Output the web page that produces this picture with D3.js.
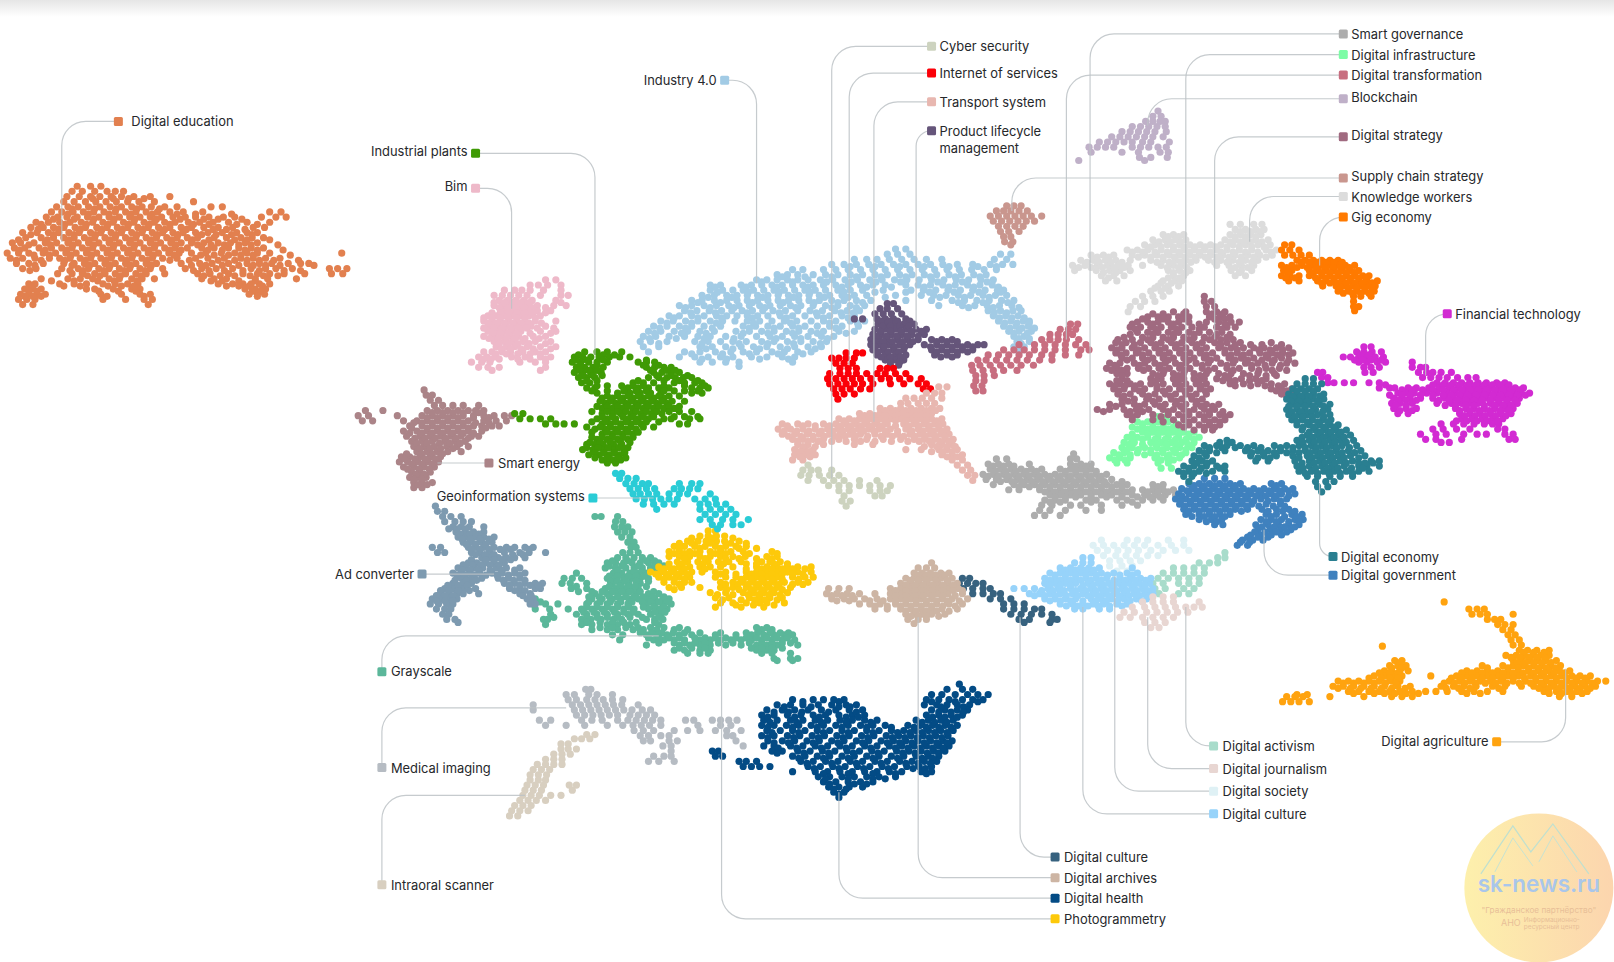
<!DOCTYPE html>
<html><head><meta charset="utf-8">
<script src="https://d3js.org/d3.v7.min.js"></script>
<style>html,body{margin:0;padding:0;background:#fff}svg{display:block}text{font-family:Inter,"Noto Sans",sans-serif}</style>
</head><body><svg id="c" width="1614" height="962"></svg>
<script>
// Each series: rows of [y, x, x, ...]
const digitalEducation=[[181,75,88,98],[186,70,80,92,104,112,120],[191,65,77,88,97,108,118,130,146,165],[196,62,72,83,93,103,113,124,135,150,188],[201,55,66,76,86,97,107,118,128,138,147,160,172,205,216],[206,50,60,71,81,91,101,112,122,132,142,153,165,178,197,262,273],[211,45,56,65,75,85,96,106,116,126,136,146,157,168,180,190,203,217,228,254,268,278],[216,35,47,58,68,79,90,100,110,120,130,140,150,160,170,183,194,207,222,240,262],[221,30,42,52,62,73,83,94,104,114,124,134,144,154,165,176,186,198,212,226,246,257],[226,22,36,47,57,67,77,88,98,108,118,128,138,148,158,168,178,190,202,216,230,240,250],[231,25,40,52,62,72,82,92,102,112,122,132,142,152,162,172,182,192,208,220,234,245,256],[236,12,20,33,44,55,66,76,86,96,106,116,126,136,146,156,166,176,186,198,212,224,238,250],[241,14,24,38,50,60,70,80,90,100,110,120,130,140,150,160,170,182,196,208,222,232,244,256],[246,7,18,28,42,54,64,74,84,94,104,114,124,134,144,154,164,174,186,200,215,228,240,250,262,332],[251,10,22,34,48,58,68,78,88,98,108,118,128,138,148,158,172,190,202,218,234,246,258,272],[256,16,28,42,62,72,82,92,102,112,122,132,142,152,176,194,206,222,240,252,264,280,292,300],[261,22,35,60,76,86,96,106,116,126,136,146,158,180,196,210,226,244,258,268,284,320,328,337],[266,56,70,80,92,102,112,122,132,142,160,192,204,222,236,250,262,276,296,322,333],[271,40,66,78,90,106,116,128,138,150,196,208,220,248,260,288],[276,34,28,58,72,84,100,112,124,134,212,226,236,244,252,262],[281,24,32,40,84,92,110,128,136,238,248,258],[286,20,28,36,44,98,118,136,146,242,250,257],[291,18,26,34,100,122,140,148],[296,22,32,144]];
const digitalEducation2=[[193,90,110,125,140],[203,70,92,113,133,155],[208,66,86,106,127,148,172,190,225],[213,52,72,91,111,131,152,175,198,212,235],[218,40,63,84,105,125,145,165,188,203,230,250],[223,37,57,78,99,119,139,160,181,207,220,238],[228,30,52,72,93,113,133,153,173,196,210,225,245],[233,18,46,67,87,107,127,147,167,187,203,228,240,262],[238,28,49,71,91,111,131,151,171,192,205,218,232,244,270],[243,19,44,65,85,105,125,145,165,176,202,216,238,250,275],[248,33,48,69,89,109,129,149,169,195,208,222,234,246,282],[253,16,40,63,83,103,123,143,165,184,212,228,240,252,266,290],[258,34,70,87,107,127,147,186,200,216,232,246,258,272,305],[263,29,68,81,101,121,141,188,203,218,236,252,276,292],[268,85,97,117,137,198,214,228,243,256,270],[273,50,72,95,111,133,205,216,232,248],[278,30,62,78,105,118,130,220,232,242,255],[283,28,36,96,115,132,245,253],[288,24,32,40,104,140,250]];
const industry40=[[242,870,880],[247,862,872,884,972,982],[252,830,842,852,864,876,888,900,915,966,978],[257,808,820,832,844,856,868,880,892,904,916,930,945,962,974,984],[262,770,780,800,812,824,836,848,860,872,884,896,908,920,932,944,956,968],[267,755,765,775,790,802,814,826,838,850,862,874,886,898,910,922,934,946,958],[272,735,745,755,765,775,785,797,809,821,833,845,857,869,881,893,905,917,929,941,953,965],[277,690,700,720,730,740,750,760,770,780,790,800,812,824,836,848,860,880,892,904,916,928,940,952,964],[282,690,702,712,722,732,742,752,762,772,782,792,802,814,826,838,858,885,897,909,921,933,945,957,969,975],[287,682,694,706,716,726,736,746,756,766,776,786,796,806,818,830,842,870,895,907,919,931,943,955,967,978],[292,672,682,694,706,716,726,736,746,756,766,776,786,796,808,820,832,846,880,905,925,937,949,961,973,985],[297,660,672,684,696,708,718,728,738,748,758,768,778,790,802,814,826,840,912,935,947,959,971,983],[302,665,677,689,701,711,721,731,741,751,763,775,787,799,811,823,835,960,972,984,992],[307,650,660,672,684,696,706,716,726,736,746,758,770,782,794,806,818,830,965,977,989],[312,642,654,666,678,690,702,714,726,738,750,762,774,788,800,812,826,840,970,982,994,1000],[317,635,648,660,672,684,700,722,734,746,758,770,782,794,806,818,834,975,987,999],[322,630,642,655,668,680,694,715,728,740,752,764,776,788,800,815,830,980,990,1002],[327,625,637,650,665,678,690,705,720,735,748,760,772,785,798,810,985,995],[332,622,632,648,675,688,700,712,725,740,752,765,778,790,803,988,1000],[337,625,640,680,692,705,720,732,745,758,772,785,798,985,995],[342,630,665,680,695,710,722,735,750,762,775,788,990],[347,660,675,688,700,712,730,745,760,772],[352,680,692,705,718,770],[356,718]];
const industry402=[[259,826,850,874,898,922,950,968],[269,760,782,808,832,856,880,904,928,952],[274,740,770,803,827,851,875,911,935,959],[279,695,725,755,785,818,842,866,898,922,946,970],[284,697,727,757,787,820,850,880,903,927,951,972],[289,688,711,741,771,801,824,860,913,937,961],[294,678,700,731,761,791,814,838,931,955,979],[299,666,690,713,743,773,808,832,941,965,990],[304,671,695,726,757,793,817,829,966,978],[309,655,678,701,731,764,800,824,971,983,995],[314,648,672,696,732,768,806,833,976,988,1000],[319,641,666,692,728,752,776,812,981,993,1005],[324,636,662,686,722,746,770,794,822,985,998],[329,631,657,684,713,754,778,804,990,1000],[334,640,682,718,746,771,797,992],[339,686,712,738,765,792,990],[344,672,702,728,756,780],[349,682,706,738,766]];
const productLifecycle=[[295,862,868],[300,855,862,872],[305,850,858,866,876],[310,830,838,852,860,868,880],[315,853,861,869,878,888],[320,850,860,870,880,890,900],[325,848,856,866,876,886,898],[330,846,854,862,872,882,892,905,915,925],[335,846,854,864,874,884,898,910,920,930,940,950,956],[340,848,858,868,878,905,915,925,935,945],[345,852,860,870,880,908,920,930],[350,860,870,878],[355,865,873]];
const productLifecycle2=[[312,856,864,872,884],[317,857,865,874,883],[322,855,865,875,885,895],[327,851,861,871,881,892],[332,850,858,867,877,887,910,920,930],[337,850,859,869,879,904,915,925,935,945],[342,853,863,873,910,920,930,940],[347,856,865,875,914,925],[352,865,874]];
const internetOfServices=[[343,822,832,838],[348,808,815,822,830],[353,812,820,828],[358,816,824,832,855,862,868],[363,806,816,824,832,842,852,860,870,880],[368,804,812,820,828,836,846,856,864,874,884,895],[373,806,814,822,830,838,848,865,878,892,900],[378,810,818,826,836,845,897,904],[383,812,820,830],[388,814]];
const transportSystem=[[376,912,920],[382,900,908,915],[387,880,888,896,905,915],[392,875,882,892,900,908],[397,855,865,875,885,895,905,913],[402,835,845,855,865,875,885,895,905],[407,815,825,835,845,855,865,875,885,895,905,915],[412,760,775,785,800,812,822,832,842,852,862,878,888,898,908,916],[417,756,768,780,792,804,814,824,834,844,854,865,880,892,902,912,920],[422,760,772,784,796,806,816,826,836,850,862,872,884,894,904,914,922],[427,770,780,790,800,815,830,842,858,875,888,898,908,918,926],[432,775,785,800,830,848,905,915,925],[437,772,782,790,880,895,912,920,930],[442,772,782,792,915,925,935],[447,770,780,925,935],[452,930,940],[457,935,943],[462,940,947],[467,945]];
const transportSystem2=[[399,860,870,880,890,900,909],[404,840,850,860,870,880,890,900],[409,820,830,840,850,860,870,880,890,900,910],[414,765,780,792,806,817,827,837,847,857,870,883,893,903,912],[419,762,774,786,798,809,819,829,839,849,860,872,886,897,907,916],[424,766,778,790,801,811,821,831,843,856,867,878,889,899,909,918],[429,775,785,795,808,822,836,850,866,882,893,903,913,922],[434,780,792,898,910,920,928],[439,777,786,905,916,925],[444,777,787,920,930]];
const cyberSecurity=[[452,785],[457,780,788,795,808],[462,778,786,796,806,815],[467,785,800,810,820,835,852],[472,805,815,825,835,845,855,865],[477,815,825,845,855,862],[482,820,850,857],[487,818,826],[492,822]];
const digitalTransformation=[[315,1040,1047],[320,1030,1038,1045],[325,1020,1028,1036,1042],[330,1012,1020,1028,1036,1048],[335,990,1005,1015,1025,1035,1045,1055],[340,975,985,995,1005,1015,1025,1035,1050,1058],[345,960,970,980,990,1000,1012,1022,1035,1048],[350,950,958,968,978,988,998,1010,1022],[355,944,952,962,972,982,992,1004],[360,945,955,965,975,988],[365,948,956,966],[370,948,956],[375,946,954],[380,948,955]];
const digitalStrategy=[[288,1170],[293,1170,1177],[298,1172,1180],[303,1140,1152,1172,1182,1190],[308,1115,1125,1135,1145,1155,1175,1185,1195],[313,1105,1115,1125,1135,1145,1155,1172,1184,1196,1204],[318,1098,1108,1118,1128,1138,1148,1158,1170,1182,1192,1200],[323,1105,1115,1125,1135,1145,1155,1165,1175,1187],[328,1092,1110,1120,1130,1140,1150,1160,1170,1180,1192],[333,1084,1094,1108,1118,1128,1138,1148,1158,1168,1180,1192,1205,1235],[338,1080,1090,1100,1112,1122,1132,1142,1152,1162,1172,1184,1196,1208,1218,1228,1240,1252],[343,1084,1094,1104,1116,1126,1136,1146,1156,1166,1178,1190,1202,1214,1224,1236,1246,1256],[348,1090,1100,1110,1120,1130,1140,1150,1160,1170,1182,1194,1206,1218,1232,1245],[353,1078,1088,1102,1112,1122,1132,1142,1152,1162,1174,1186,1198,1210,1222,1236,1250,1258],[358,1075,1085,1095,1106,1116,1126,1136,1146,1156,1168,1180,1192,1204,1216,1230,1243],[363,1085,1095,1120,1130,1140,1150,1160,1172,1184,1196,1208,1222,1238],[368,1090,1118,1128,1140,1150,1160,1170,1182,1194,1206,1220,1230],[373,1078,1088,1098,1108,1118,1130,1142,1152,1162,1172,1195,1208,1222,1235,1248],[378,1082,1092,1102,1112,1124,1136,1146,1156,1166,1176,1235,1245,1255],[383,1086,1098,1110,1122,1132,1142,1152,1162,1172,1245,1255],[388,1090,1102,1114,1126,1138,1148,1158,1168],[393,1078,1090,1102,1112,1122,1132,1142,1152,1162,1172,1184],[398,1066,1078,1092,1104,1116,1130,1140,1150,1160,1170,1180],[403,1095,1105,1120,1135,1145,1155,1165,1175,1185,1195],[408,1100,1120,1140,1150,1160,1170,1180,1190],[413,1145,1155,1165,1175,1185],[418,1160,1170,1178]];
const digitalStrategy2=[[305,1120,1130,1150,1178,1188],[310,1110,1130,1150,1180,1190],[315,1100,1120,1140,1165,1190],[320,1103,1123,1143,1165,1187],[325,1098,1120,1140,1160,1182,1195],[330,1086,1100,1115,1135,1155,1175,1186,1198],[335,1090,1102,1123,1143,1163,1186,1200,1215,1226,1245],[340,1085,1106,1127,1147,1167,1190,1202,1223,1234,1246],[345,1089,1110,1131,1151,1172,1196,1208,1230,1241,1252],[350,1095,1115,1135,1155,1176,1200,1212,1226,1238,1252],[355,1083,1107,1127,1147,1168,1192,1216,1229,1244],[360,1080,1090,1111,1131,1151,1174,1198,1223,1236,1250],[365,1090,1125,1145,1166,1190,1214,1230,1240],[370,1085,1095,1123,1145,1165,1188,1200,1214,1226],[375,1083,1093,1103,1124,1147,1167,1200,1215,1229,1242],[380,1087,1107,1130,1151,1171,1240,1250],[385,1092,1116,1137,1157,1250],[390,1096,1120,1143,1163],[395,1084,1107,1127,1147,1167,1178],[400,1072,1098,1110,1135,1155,1175,1188],[405,1100,1128,1150,1170,1190],[410,1130,1155,1175,1185],[415,1150,1170,1180]];
const digitalInfrastructure=[[405,1125,1133],[410,1105,1115,1125,1135],[415,1100,1110,1120,1130,1140,1150],[420,1110,1120,1130,1140,1150,1160],[425,1095,1105,1115,1125,1135,1145,1155,1165],[430,1092,1102,1118,1128,1138,1148,1160],[435,1090,1100,1112,1124,1134,1146,1158],[440,1082,1092,1105,1118,1130,1142,1152],[445,1078,1088,1098,1122,1134,1146],[450,1085,1095,1125,1135],[455,1128,1138]];
const digitalInfrastructure2=[[412,1110,1120,1130,1143],[417,1105,1115,1125,1135,1145],[422,1100,1115,1125,1135,1145,1155],[427,1100,1110,1122,1132,1142,1152,1160],[432,1097,1110,1123,1133,1143,1154],[437,1095,1106,1118,1129,1140,1152],[442,1087,1098,1112,1124,1136,1148],[447,1083,1093,1128,1140]];
const smartGovernance=[[441,1043],[446,968,978,1040,1046],[451,960,970,980,1000,1040,1050,1060],[456,962,972,982,992,1002,1012,1030,1040,1050,1060],[461,955,965,975,985,995,1005,1015,1025,1035,1045,1055,1065,1075],[466,958,968,978,988,998,1008,1018,1028,1038,1048,1058,1068,1080],[471,965,985,995,1005,1015,1025,1035,1045,1055,1065,1075,1085,1095,1120,1130],[476,980,990,1010,1020,1030,1040,1050,1060,1070,1080,1090,1100,1110,1120,1130,1140],[481,1020,1030,1040,1050,1060,1070,1080,1090,1100,1112,1122,1132,1142],[486,1015,1025,1035,1055,1065,1085,1095,1110,1120,1130],[491,1012,1022,1040,1050,1070,1090,1105],[496,1010,1020,1035,1055,1070],[501,1005,1015,1030]];
const smartGovernance2=[[453,965,975,985,1045,1055],[458,967,977,987,997,1007,1035,1045,1055,1065],[463,960,970,980,990,1000,1010,1020,1030,1040,1050,1060,1070],[468,972,983,993,1003,1013,1023,1033,1043,1053,1063,1073,1090],[473,990,1000,1010,1020,1030,1040,1050,1060,1070,1080,1090,1125],[478,1015,1025,1035,1045,1055,1065,1075,1085,1095,1115,1125,1135],[483,1025,1035,1045,1060,1075,1090,1105,1117,1127],[488,1020,1030,1060,1100]];
const blockchain=[[108,1125],[113,1120,1128],[118,1113,1120,1127,1132],[123,1100,1108,1116,1124,1132],[128,1090,1098,1106,1114,1122,1133],[133,1080,1088,1096,1104,1112,1120,1130],[138,1068,1076,1084,1092,1100,1110,1118,1136],[143,1058,1066,1074,1082,1100,1108,1116,1125,1133],[148,1060,1090,1106,1127,1135],[153,1107,1118,1134],[156,1048,1112]];
const supplyChain=[[200,978,985,992],[205,968,975,982,990,998],[210,962,970,978,986,994,1002,1012],[215,965,973,981,989,997,1005],[220,970,978,986,994],[225,972,980,990],[230,975,982],[235,976,984],[238,982]];
const knowledgeWorkers=[[218,1195,1205,1218,1226],[223,1200,1210,1220,1228],[228,1130,1140,1150,1195,1205,1215,1225],[233,1120,1132,1142,1152,1190,1200,1210,1220,1232],[238,1112,1122,1134,1146,1156,1166,1176,1186,1198,1210,1222,1234],[243,1095,1105,1115,1128,1140,1150,1160,1170,1182,1192,1204,1216,1230,1240],[248,1060,1072,1082,1100,1112,1124,1136,1146,1156,1166,1176,1188,1200,1212,1224,1236],[253,1050,1062,1074,1084,1098,1118,1130,1142,1152,1162,1174,1186,1198,1210,1222],[258,1042,1054,1066,1076,1086,1096,1110,1128,1140,1150,1182,1194,1206,1218],[263,1044,1065,1078,1088,1098,1135,1146,1156,1196,1206,1216],[268,1070,1082,1092,1140,1150,1200,1210],[273,1074,1085,1130,1142,1148],[278,1125,1135,1145],[283,1118,1128,1136],[288,1110,1120,1130],[293,1103,1112,1122],[298,1098,1108],[303,1096]];
const knowledgeWorkers2=[[225,1205,1215,1224],[230,1135,1145,1200,1210,1220],[235,1126,1137,1147,1195,1205,1215,1226],[240,1118,1128,1140,1151,1161,1171,1181,1192,1204,1216,1228],[245,1100,1110,1122,1134,1145,1155,1165,1176,1186,1198,1210,1222,1235],[250,1066,1077,1106,1118,1130,1141,1151,1161,1171,1182,1194,1206,1218,1230],[255,1056,1068,1079,1090,1124,1136,1147,1157,1180,1192,1204,1216],[260,1048,1060,1071,1082,1092,1134,1145,1153,1200,1212],[265,1072,1084,1140,1152,1204],[270,1077,1135,1146],[275,1128,1138],[280,1122,1132]];
const gigEconomy=[[238,1248,1255],[243,1245,1253,1262],[248,1248,1256,1264,1272],[253,1260,1268,1276,1284,1292,1300],[258,1245,1255,1265,1275,1283,1291,1299,1307,1316],[263,1247,1255,1272,1280,1288,1296,1304,1312,1320],[268,1245,1253,1262,1272,1284,1292,1300,1308,1316,1324,1330],[273,1252,1262,1280,1288,1296,1304,1312,1320,1328,1338],[278,1285,1298,1306,1314,1322,1330,1336],[283,1300,1310,1318,1326,1335],[288,1315,1322,1332],[293,1315],[298,1315,1320],[302,1316]];
const gigEconomy2=[[255,1264,1272,1280,1288,1296,1304],[260,1250,1260,1270,1279,1287,1295,1303,1311],[265,1251,1276,1284,1292,1300,1308,1316],[270,1249,1258,1278,1288,1296,1304,1312,1320,1327],[275,1284,1292,1300,1308,1316,1324,1333],[280,1302,1310,1318,1326,1333],[285,1305,1314,1322,1330]];
const financialTechnology=[[337,1325,1332],[342,1318,1325,1333,1342],[347,1305,1312,1320,1328,1336,1344],[352,1320,1328,1338,1346,1372],[357,1325,1332,1340,1372,1380,1385],[362,1280,1285,1326,1334,1378,1386,1392,1400,1410],[367,1284,1290,1382,1390,1398,1406,1416,1426,1434],[372,1290,1296,1306,1315,1330,1340,1396,1404,1412,1420,1428,1436,1444,1454,1462],[377,1340,1350,1355,1368,1376,1388,1398,1408,1416,1424,1432,1440,1448,1456,1464,1472,1480],[382,1358,1366,1374,1386,1396,1406,1414,1422,1430,1438,1446,1454,1462,1470,1478,1486],[387,1354,1362,1370,1380,1392,1404,1412,1420,1428,1436,1444,1452,1460,1468,1476],[392,1352,1360,1372,1396,1410,1420,1428,1436,1448,1456,1464,1474],[397,1354,1366,1376,1414,1424,1432,1442,1452,1462,1470],[402,1358,1368,1418,1428,1438,1448,1458,1468],[407,1420,1430,1440,1450,1460],[412,1400,1412,1422,1432,1442,1450,1456],[417,1392,1402,1415,1428,1455,1462],[422,1380,1395,1405,1422,1435,1444,1462,1470],[427,1385,1395,1420,1466,1472],[430,1400,1408]];
const financialTechnology2=[[345,1322,1330],[350,1316,1324,1332,1342],[374,1346,1392,1402,1410,1418,1426,1434,1442,1450,1458,1466],[379,1362,1372,1382,1392,1402,1412,1420,1428,1436,1444,1452,1460,1468,1476],[384,1350,1362,1370,1380,1392,1402,1410,1418,1426,1434,1442,1450,1458,1466,1474,1482],[389,1358,1366,1376,1398,1408,1416,1424,1432,1440,1448,1456,1464,1472],[394,1356,1366,1404,1414,1424,1432,1442,1452,1460,1468],[399,1360,1372,1418,1428,1437,1447,1457,1466],[404,1423,1433,1443,1453,1463],[409,1415,1425,1435,1445,1455]];
const digitalEconomy=[[368,1268,1276],[373,1260,1268,1276,1284],[378,1256,1264,1272,1280],[383,1252,1260,1268,1276,1286],[388,1250,1258,1266,1276,1286],[393,1256,1264,1272,1282,1292],[398,1250,1260,1268,1278,1290],[403,1252,1262,1270,1280,1292],[408,1255,1265,1275,1285,1293],[413,1260,1272,1282,1292,1300],[418,1265,1278,1288,1298,1308],[423,1270,1280,1290,1300,1312],[428,1192,1260,1272,1282,1292,1302,1315],[433,1170,1182,1192,1205,1218,1238,1250,1262,1274,1284,1294,1304,1318],[438,1165,1175,1190,1210,1222,1232,1244,1256,1268,1278,1288,1298,1310,1322],[443,1160,1172,1215,1228,1240,1256,1270,1280,1290,1300,1312,1326],[448,1158,1168,1178,1220,1232,1258,1272,1282,1292,1302,1314,1332,1340],[453,1150,1160,1172,1182,1190,1260,1272,1284,1294,1306,1320,1328,1340],[458,1145,1155,1165,1178,1190,1262,1274,1286,1296,1308,1320,1330],[463,1150,1158,1270,1280,1292,1302,1314],[468,1155,1278,1288,1296],[473,1280,1290],[478,1284]];
const digitalEconomy2=[[380,1260,1268,1276],[385,1256,1264,1272,1282],[390,1254,1262,1270,1280],[395,1252,1260,1268,1276,1286],[400,1255,1264,1274,1285],[405,1258,1266,1275,1286],[410,1260,1270,1280,1290],[415,1266,1276,1286,1296],[420,1272,1283,1293,1303],[425,1265,1276,1286,1296,1306],[430,1185,1197,1266,1277,1287,1297,1308],[435,1175,1187,1200,1212,1225,1244,1256,1268,1279,1289,1299,1311],[440,1170,1182,1216,1227,1238,1250,1262,1273,1283,1293,1304,1316],[445,1165,1222,1234,1262,1275,1285,1295,1306,1320],[450,1163,1173,1265,1277,1287,1297,1308,1320,1326,1334],[455,1155,1167,1185,1266,1278,1290,1300,1313,1324],[460,1150,1160,1172,1268,1280,1291,1302,1314]];
const digitalGovernment=[[465,1170,1180,1190],[470,1155,1165,1175,1185,1195,1205,1235,1245],[475,1148,1158,1168,1178,1188,1198,1208,1218,1228,1238,1248,1256],[480,1145,1155,1165,1175,1185,1195,1205,1215,1225,1235,1245,1258],[485,1142,1152,1162,1172,1182,1192,1202,1212,1225,1238,1250],[490,1146,1156,1166,1176,1186,1196,1206,1216,1230,1244],[495,1150,1160,1170,1180,1190,1200,1212,1226,1240,1252],[500,1152,1165,1175,1185,1195,1230,1240,1255,1265],[505,1165,1177,1187,1225,1235,1245,1258,1266],[510,1180,1188,1220,1232,1242,1252,1262],[515,1222,1234,1244,1254],[520,1215,1225,1235,1245],[525,1207,1217,1227],[530,1202,1212]];
const digitalGovernment2=[[472,1160,1170,1180,1190,1200,1240],[477,1153,1163,1173,1183,1193,1203,1213,1223,1233,1243,1252],[482,1148,1160,1170,1180,1190,1200,1210,1220,1230,1240,1252],[487,1147,1157,1167,1177,1187,1197,1207,1218,1232,1244],[492,1151,1161,1171,1181,1191,1201,1211,1223,1237,1248],[497,1155,1165,1175,1185,1195,1206,1232,1246,1258],[502,1158,1170,1180,1190,1235,1248,1260],[507,1172,1182,1230,1240,1252,1262],[512,1226,1238,1248,1258],[517,1219,1229,1240,1250],[522,1212,1222,1232],[527,1205,1214]];
const digitalSociety=[[525,1070,1095,1105,1115,1135,1150],[530,1062,1072,1082,1092,1102,1112,1125,1138,1150],[535,1066,1076,1086,1096,1106,1118,1130,1142,1155],[540,1072,1084,1094,1104,1115,1125],[545,1078,1088,1098,1108],[550,1078,1090,1100],[555,1085,1095]];
const digitalCultureLight=[[542,1052,1060],[547,1044,1052,1060],[552,1030,1040,1050,1058,1068,1100],[557,1020,1030,1040,1050,1060,1070,1082,1095,1105],[562,1015,1025,1035,1045,1055,1065,1075,1088,1098,1108,1118],[567,1015,1025,1035,1045,1057,1067,1077,1087,1097,1107,1117],[572,985,995,1005,1018,1028,1040,1050,1060,1070,1080,1090,1100,1110,1120],[577,1000,1010,1020,1030,1042,1052,1062,1072,1082,1092,1102,1112,1120],[582,1015,1025,1035,1045,1060,1070,1080,1092,1104,1114],[587,1030,1042,1052,1062,1072,1085,1095],[592,1044,1052,1068,1078]];
const digitalCultureLight2=[[554,1035,1045,1055,1063],[559,1025,1035,1045,1055,1065,1076,1088,1100],[564,1020,1030,1040,1050,1060,1070,1082,1093,1103,1113],[569,1020,1030,1040,1052,1062,1072,1082,1092,1102,1112],[574,1012,1023,1034,1045,1055,1065,1075,1085,1095,1105,1115],[579,1005,1015,1025,1036,1047,1057,1067,1077,1087,1097,1107,1117],[584,1020,1030,1040,1052,1065,1075,1086,1098,1109],[589,1036,1047,1057,1067,1078,1090]];
const digitalActivism=[[537,1190],[542,1183,1190],[547,1165,1175,1183],[552,1140,1150,1160,1170],[557,1130,1140,1150,1160,1170],[562,1125,1135,1145,1155,1165],[567,1120,1130,1145,1155,1165],[572,1122,1132,1150,1160],[577,1126,1145,1155]];
const digitalJournalism=[[580,1120,1130,1140],[585,1110,1120,1130,1140,1165],[590,1100,1112,1122,1132,1142,1152,1160,1168],[595,1092,1102,1114,1124,1134,1144,1154],[600,1088,1098,1110,1120,1130,1140],[605,1112,1122,1132],[610,1118,1126]];
const digitalCultureDark=[[562,935,942],[567,932,940,948,955],[572,936,945,955,962],[577,945,955,965,972],[582,962,972,982],[587,975,985,995],[592,975,985,995,1005,1012],[597,982,992,1002,1012,1022],[602,990,1000,1022,1027],[605,995,1020]];
const digitalArchives=[[547,905],[552,892,900,908],[557,888,896,904,914,922],[562,880,888,896,904,914,925],[567,875,885,893,901,911,921,930],[572,805,815,825,865,875,885,893,901,911,921,931],[577,803,813,823,835,850,865,875,885,893,901,911,921,935],[582,808,820,830,840,852,865,875,885,895,905,915,925,940],[587,835,845,855,870,880,890,900,910,922,935],[592,850,862,875,885,895,905,915,930],[597,880,888,896,905,918],[602,882,892,900],[606,888]];
const digitalArchives2=[[559,892,900,909,918],[564,884,892,900,909,920],[569,880,889,897,906,916,926],[574,870,880,889,897,906,916,926,935],[579,808,818,828,870,880,889,897,906,916,928],[584,813,825,845,858,870,880,890,900,910,920,932],[589,850,862,875,885,895,905,916,928],[594,880,890,900,910,922],[599,885,892,900,912]];
const digitalAgriculture=[[585,1403],[592,1427,1435,1442],[597,1430,1438,1445,1470],[602,1445,1452,1458],[607,1455,1462,1470],[612,1460,1468],[617,1465,1472],[622,1468,1476],[627,1470,1478],[628,1343],[632,1476,1484,1493,1505],[637,1463,1473,1481,1489,1497,1505],[642,1355,1362,1470,1478,1486,1494,1502,1512],[647,1350,1358,1366,1440,1460,1470,1480,1490,1498,1506,1516],[652,1345,1352,1360,1368,1425,1435,1445,1455,1465,1475,1485,1495,1505,1515,1525],[657,1335,1345,1355,1362,1390,1415,1425,1435,1445,1455,1465,1475,1487,1497,1507,1517,1527,1535,1545],[662,1300,1310,1320,1330,1340,1352,1360,1408,1418,1428,1438,1448,1458,1470,1482,1492,1502,1512,1522,1532,1542,1552,1560],[667,1295,1305,1315,1325,1335,1345,1358,1370,1400,1412,1422,1434,1450,1462,1478,1490,1500,1510,1520,1530,1540,1550],[672,1310,1320,1330,1340,1350,1360,1372,1385,1395,1406,1420,1432,1445,1460,1500,1512,1522,1532,1542],[675,1260,1270],[677,1250,1258,1266,1292,1325,1352,1362,1372,1515,1527],[682,1246,1254,1262,1272]];
const digitalAgriculture2=[[634,1480,1490,1500],[639,1468,1477,1485,1493,1501],[644,1360,1474,1482,1490,1498,1507],[649,1352,1362,1445,1465,1475,1485,1494,1502,1511],[654,1340,1350,1358,1420,1430,1440,1450,1460,1470,1480,1490,1500,1510,1520],[659,1330,1342,1350,1358,1410,1420,1430,1440,1450,1460,1470,1481,1492,1502,1512,1522,1531,1540],[664,1305,1315,1325,1335,1346,1356,1403,1413,1423,1433,1443,1453,1464,1476,1487,1497,1507,1517,1527,1537,1547],[669,1300,1312,1322,1332,1342,1352,1365,1405,1417,1428,1456,1495,1505,1515,1525,1535,1545],[674,1315,1335,1345,1355,1366,1378,1425,1438,1505,1517,1527,1537]];
const digitalHealth=[[665,932],[670,920,935,945],[675,905,915,928,940,950,960],[680,770,790,800,810,820,900,912,922,935,945,955],[685,755,768,780,795,808,822,832,898,910,920,930,942],[690,745,760,772,785,798,812,825,838,905,918,930,940],[695,740,752,765,778,790,802,815,828,840,900,912,924,935],[700,742,755,768,780,792,804,816,828,840,852,890,902,914,926],[705,740,752,764,776,788,800,812,824,836,848,860,882,894,906,918,930],[710,745,758,770,782,794,806,818,830,842,854,866,878,890,902,914,926],[715,740,752,765,777,789,801,813,825,837,849,861,873,885,897,909,921],[720,746,760,772,784,796,808,820,832,844,856,868,880,892,904,916,925],[725,742,752,768,780,792,804,816,828,840,852,864,876,888,900,912,922],[730,692,698,750,760,775,787,799,811,823,835,847,859,871,883,895,907,918],[735,695,702,770,782,794,806,818,830,842,854,866,878,890,902,912],[740,718,725,735,778,790,802,814,826,838,850,862,874,886,898,910],[745,722,730,738,748,785,797,809,821,833,845,857,869,881,893,905],[750,770,792,804,816,828,840,852,864,876,895,905],[755,795,806,818,830,842,854,870],[760,800,812,824,836,848],[765,805,815,825,838],[770,810,820],[775,815]];
const digitalHealth2=[[682,780,815,905,928,950],[687,762,788,815,826,914,936],[692,752,766,779,805,832,912,924,936],[697,746,772,796,822,834,906,918,930],[702,748,774,798,822,846,896,908,920],[707,746,770,794,818,842,866,888,900,912,924],[712,750,776,800,824,848,872,884,896,908,920],[717,746,771,795,819,843,867,879,891,903,915],[722,752,766,790,814,838,862,874,886,898,910,920],[727,756,774,798,822,846,870,882,894,906,916],[732,755,781,805,829,853,877,889,901,912],[737,776,800,824,848,872,896,906],[742,784,808,832,856,880,892,904],[747,791,815,839,863,887,899],[752,800,824,848,870,900],[757,802,824,848,860],[762,806,830,842],[767,810,822],[772,815]];
const photogrammetry=[[516,688,695],[521,680,688,696,704],[526,668,678,686,696,704,718],[531,655,665,675,685,695,705,715,725],[536,650,660,670,680,690,700,710,722,750],[541,650,660,670,680,690,700,712,724,745,755],[546,658,668,678,688,698,708,720,740,748,758],[551,640,650,660,670,680,690,700,712,735,745,755,765,775,788],[556,632,642,652,662,672,682,695,705,725,735,745,755,765,775,788],[561,640,650,660,670,695,705,715,725,735,745,755,770,782,790],[566,645,655,665,672,700,712,722,732,742,752,762,775,785],[571,650,662,680,700,712,725,735,745,755,768],[576,690,705,722,732,742,752,765],[581,695,708,728,738,748,760],[586,700,712,725,738,745,762],[590,695,720,742]];
const photogrammetry2=[[523,672,692,712],[528,660,672,690,710,725],[533,660,680,700,718,735],[538,655,665,675,695,705,728,755],[543,665,685,705,718,735,750],[548,650,663,683,703,725,735,752,765],[553,645,655,665,685,725,740,750,760,770,782],[558,637,647,657,667,700,715,730,740,750,760,770,780],[563,645,655,665,720,730,740,750,760,776],[568,660,705,717,727,737,747,757,770,780],[573,655,706,718,730,740,750,760],[578,697,712,727,737,747,758],[583,702,720,733,743,755],[588,715,732,752]];
const grayscale=[[502,578,584,600],[507,598,605],[512,597,604,610],[517,600,607,614],[522,604,612],[527,610,616],[532,613,618],[537,605,612,620],[542,600,608,616,624,632],[547,590,598,606,614,622,630,640],[552,588,598,608,616,624,632],[557,560,596,604,612,620,628,640],[562,548,556,565,590,598,606,614,622,630],[567,546,554,570,595,603,611,622],[572,555,570,588,598,606,614,620],[577,578,590,600,608,618,630,640],[582,520,575,585,595,603,611,620,628,636,644,650],[587,518,530,542,570,580,590,600,610,628,636,644,652],[592,520,534,552,565,575,585,595,606,616,630,640,648],[597,535,560,570,580,590,600,610,620,632,642],[602,528,532,565,574,584,596,604,628,636,644],[607,530,565,575,590,600,612,640],[612,575,590,600,615,625,638,655,668,740,750],[617,595,605,628,638,648,660,672,695,715,730,742,752,762,770],[622,602,635,645,655,665,680,690,700,710,720,730,740,750,760,772],[627,628,660,670,680,690,705,720,735,745,755,775],[632,655,665,680,690,735,745,752],[635,668,680,688,740,750],[640,752,768,775],[642,755,770]];
const grayscale2=[[545,595,610,628,636],[550,592,604,620,636,645],[555,600,616,624,636],[560,592,600,610,618,626],[565,593,600,608,618,630],[570,560,592,602,610,617,628],[575,562,575,585,595,604,612,622,635],[580,572,582,592,600,608,616,625,634,645],[585,525,572,583,593,603,614,624,632,640,648],[590,570,580,590,600,611,625,635,645],[595,567,577,587,597,606,615,636,646],[600,538,570,580,590,600,612,624,640],[605,570,583,595,606,618,636],[610,583,595,608,620,632,645,660,735,745],[615,622,633,643,654,665,680,700,725,736,748,758,766],[620,630,640,650,660,675,685,695,705,715,725,735,745,755,765],[625,640,655,665,675,685,698,712,728,740,750,760,768],[630,660,672,685,730,740,750,760],[635,768]];
const adConverter=[[492,423],[497,425,432],[502,430,438,448],[507,432,442,450,458],[512,440,448,456,470],[517,443,452,460,470],[522,445,453,461,470,480],[527,450,458,468,478],[532,420,428,455,462,470,480,492,500,510,518],[537,425,432,458,466,476,490,505,514,530],[542,468,476,484,492,500,510],[547,455,463,471,480,490],[552,445,453,461,469,482,492,505],[557,440,448,456,466,478,488,500,510],[562,448,458,468,484,494,505],[567,440,450,458,490,500,510,520,527],[572,432,440,450,462,495,505,520,525],[577,428,436,444,450,465,505,515],[582,420,428,436,444,512,518],[587,418,426,434,440,515,520],[592,424,432,438],[597,430,436],[602,434,442],[605,445]];
const adConverter2=[[514,436,444,452],[519,447,456,465],[524,449,457,466,475],[529,453,462,472],[534,458,466,475,486,496,514],[539,462,471,480,498,508],[544,458,472,480,488,496],[549,450,459,467,476,485],[554,449,457,465,476,487,500],[559,444,452,461,472,483,494,505],[564,442,453,463,489,499,510],[569,435,445,454,495,505,515,523],[574,428,436,445,456,500,510],[579,424,432,440,508,516],[584,424,432,440,515]];
const smartEnergy=[[379,412],[384,414,420],[389,418,426],[394,422,430,440,450,465],[399,355,372,415,425,435,445,455,462,470],[404,348,358,386,410,420,430,440,450,460,470,480,490,497],[409,352,362,392,405,415,425,435,445,455,470,482,492],[414,398,410,420,430,440,450,460,468,478,485],[419,392,405,415,425,435,445,455,468],[424,395,408,418,428,438,448,458,465],[429,400,410,420,432,442,452],[434,402,412,422,434,444,455],[439,405,415,425,435,448],[444,390,398,408,418,428],[449,388,396,406,416,426],[454,392,402,412,422],[459,400,408,418],[464,398,406,414],[469,402,410,420],[474,402,410]];
const smartEnergy2=[[401,420,430,440,450,465],[406,415,425,435,445,460,475],[411,402,410,420,430,440,450,462,475],[416,400,415,425,435,445,455,472],[421,398,410,420,430,440,450,460],[426,403,413,423,433,443,455],[431,405,415,427,437,447],[436,408,418,428,440],[441,395,410,420,430],[446,393,403,413,423],[451,400,410,420],[456,396,407,417],[461,404,412],[466,402,410],[471,406,415]];
const industrialPlants=[[342,568,580,590,604],[347,558,566,574,582,592,602,612],[352,556,564,572,580,590,620,628,636],[357,560,568,576,586,628,636,645,652],[362,558,566,574,584,635,643,652,660],[367,562,570,578,630,640,648,656,664,672],[372,565,573,615,625,635,655,665,675,682],[377,570,578,610,620,630,640,650,672,680,688],[382,580,600,612,622,632,642,672,682],[387,585,595,605,615,625,635,645],[392,588,598,608,618,628,638,648],[397,585,595,605,615,625,635,645,655],[402,500,508,585,595,603,613,623,633,643],[407,505,515,525,535,580,590,598,610,620,630,645,652,670,680],[412,530,540,548,558,585,593,603,613,623,660,668],[417,578,588,598,608,618],[422,585,595,605,615],[427,580,590,600,610],[432,570,578,586,596,604],[437,566,576,586,596,606],[442,572,582,592,602],[447,585,595,603],[450,590,598]];
const industrialPlants2=[[345,562,586,597],[350,560,570,586,628],[355,564,580,625,640],[360,563,572,580,632,648,656],[365,566,576,585,638,652,668],[370,570,580,620,645,660,678],[375,580,590,604,615,625,645,665,685],[380,575,590,606,618,628,645,655,665,678],[385,590,600,610,620,630,640,650,660],[390,583,593,603,613,623,633,643,653,665],[395,580,590,600,610,620,630,640,650,660],[400,575,590,600,608,618,628,638,650,660,672],[405,585,595,605,615,625,635,655,665,678],[410,575,588,598,608,618,628,640],[415,570,583,593,603,613,625,635],[420,575,590,600,610,620],[425,575,585,595,605,615],[430,573,583,593,603,612],[435,570,581,591,601,610],[440,578,587,597,607],[445,578,590,600,608]];
const bim=[[272,530,540],[277,515,523,532,545],[282,490,500,507,515,528,545],[287,480,488,496,504,512,525,545,552],[292,485,493,501,509,517,540],[297,480,488,496,504,512,522,538,550],[302,490,498,506,514,522,535],[307,474,482,490,498,506,514,525],[312,470,478,486,494,502,510,520,540],[317,476,484,492,500,508,516,530],[322,474,482,490,498,506,525,540],[327,470,480,488,496,504,518,530],[332,480,490,498,508,520,535],[337,482,492,500,512,525,540],[342,470,478,488,496,508,520,530],[347,465,473,481,497,510,525,535],[352,458,468,476,505,520,530],[357,465,474,485,530],[360,478,525]];
const bim2=[[294,480,490,498,506,514,545],[299,485,493,501,509,517,530],[304,478,486,494,502,510,518,530],[309,470,478,486,494,502,510,520],[314,474,482,490,498,506,514,526],[319,470,480,488,496,504,512,522,538],[324,478,486,494,502,515,535],[329,475,484,492,500,510,524],[334,485,494,503,514,530],[339,487,496,506,518,535],[344,482,492,503,515,525],[349,470,477,485,503,515,530]];
const geoinformation=[[460,598,604],[465,602,610,618],[470,608,616,624,630,660,672,680],[475,612,620,628,636,655,662,670,678],[480,615,622,630,638,650,660,668,690],[485,618,626,634,642,650,658,675,685,695],[490,625,635,645,655,680,688,696,705],[495,638,680,690,700,710],[500,685,695,705,715],[505,680,690,702,712,727],[510,692,700,712,720],[514,697]];
const medicalImaging=[[670,569,574],[675,550,558,572,580,595],[680,552,560,570,578,586,595,605],[685,518,556,564,572,580,588,596,604,620],[690,518,558,566,574,582,590,598,606,614,624,632],[695,560,568,576,584,592,600,612,620,628,636],[700,524,535,565,575,585,600,610,618,626,634,642,666,674,692,700,708,716],[705,530,550,568,590,605,615,623,631,642,678,700,710],[710,616,625,635,655,668,680,695,706,720],[715,622,630,642,650,706,712],[720,625,632,650,658,715],[725,644,652,722],[730,652],[735,635,645,652],[740,630,640,655]];
const intraoralScanner=[[714,570,578],[718,558,565,573],[723,545,552],[728,545,552,560],[733,538,546,554],[738,530,538,546],[743,522,530,538,546],[748,518,526,534],[753,515,523,531],[758,515,523,530],[763,512,520,528,553,560],[768,510,518,526,556],[773,508,516,524,535,545],[778,505,513,521,530],[783,500,508,516],[788,497,505,513],[793,495,503]];

const seriesNames=["Digital education","Bim","Smart energy","Industry 4.0","Product lifecycle management","Internet of services","Transport system","Cyber security","Digital transformation","Knowledge workers","Digital infrastructure","Digital strategy","Smart governance","Blockchain","Supply chain strategy","Gig economy","Financial technology","Digital government","Digital economy","Digital society","Digital activism","Digital culture","Digital journalism","Digital culture","Digital archives","Digital agriculture","Digital health","Grayscale","Photogrammetry","Ad converter","Industrial plants","Geoinformation systems","Medical imaging","Intraoral scanner"];
const seriesRows=[digitalEducation.concat(digitalEducation2),bim.concat(bim2),smartEnergy.concat(smartEnergy2),industry40.concat(industry402),productLifecycle.concat(productLifecycle2),internetOfServices,transportSystem.concat(transportSystem2),cyberSecurity,digitalTransformation,knowledgeWorkers.concat(knowledgeWorkers2),digitalInfrastructure.concat(digitalInfrastructure2),digitalStrategy.concat(digitalStrategy2),smartGovernance.concat(smartGovernance2),blockchain,supplyChain,gigEconomy.concat(gigEconomy2),financialTechnology.concat(financialTechnology2),digitalGovernment.concat(digitalGovernment2),digitalEconomy.concat(digitalEconomy2),digitalSociety,digitalActivism,digitalCultureLight.concat(digitalCultureLight2),digitalJournalism,digitalCultureDark,digitalArchives.concat(digitalArchives2),digitalAgriculture.concat(digitalAgriculture2),digitalHealth.concat(digitalHealth2),grayscale.concat(grayscale2),photogrammetry.concat(photogrammetry2),adConverter.concat(adConverter2),industrialPlants.concat(industrialPlants2),geoinformation,medicalImaging,intraoralScanner];
const seriesColors=["#e2804f","#eeb9c9","#ab8488","#a2cbe5","#65557a","#fb0008","#e8b7b0","#cdd3bf","#c86e80","#dcdcdc","#7dfca6","#a06a80","#adadad","#bfb0c8","#c9968e","#ff7a00","#d22ad2","#3f81be","#2a7f91","#dff1f5","#a8dccb","#97d3fa","#e8d6d2","#37627f","#cdb5a4","#ffa30f","#034b85","#5bb79a","#fdc90a","#7d9ab0","#3f9a05","#2accd6","#b6bcc3","#d8cfc0"];

// Legend: name, colour, swatch x, swatch y, anchor side, line end x, line end y, first leg ("h" or "v"), label y shift
const legend=[
["Digital education","#e2804f",115,118,"r",60,235,"h",-0.5],
["Industrial plants","#3f9a05",462,149,"l",578,345,"h",-2.5],
["Bim","#eeb9c9",462,183,"l",497,300,"h",-2],
["Industry 4.0","#a2cbe5",704,78,"l",735,275,"h",0],
["Cyber security","#cdd3bf",905,45,"r",808,465,"h",0],
["Internet of services","#fb0008",905,71,"r",825,355,"h",0],
["Transport system","#e8b7b0",905,99,"r",849,410,"h",0],
["Product lifecycle|management","#65557a",905,127,"r",890,320,"h",0.5],
["Smart governance","#adadad",1305,33,"r",1059,450,"h",0],
["Digital infrastructure","#7dfca6",1305,53,"r",1152,420,"h",0],
["Digital transformation","#c86e80",1305,73,"r",1036,330,"h",0],
["Blockchain","#bfb0c8",1305,96,"r",1115,122,"h",-1.5],
["Digital strategy","#a06a80",1305,133,"r",1180,330,"h",-1.5],
["Supply chain strategy","#c9968e",1305,173,"r",983,205,"h",-2.5],
["Knowledge workers","#dcdcdc",1305,191,"r",1214,235,"h",0],
["Gig economy","#ff7a00",1305,211,"r",1282,258,"h",0],
["Financial technology","#d22ad2",1406,305,"r",1385,365,"h",0],
["Digital economy","#2a7f91",1295,541,"r",1282,470,"h",0.5],
["Digital government","#3f81be",1295,559,"r",1228,515,"h",0],
["Digital agriculture","#ffa30f",1454,721,"l",1521,650,"h",-0.5],
["Digital activism","#a8dccb",1179,725,"r",1152,590,"h",0],
["Digital journalism","#e8d6d2",1179,747,"r",1115,600,"h",0],
["Digital society","#dff1f5",1179,769,"r",1083,560,"h",0],
["Digital culture","#97d3fa",1179,791,"r",1052,590,"h",0],
["Digital culture","#37627f",1025,833,"r",991,600,"h",-0.5],
["Digital archives","#cdb5a4",1025,853,"r",892,600,"h",0],
["Digital health","#034b85",1025,873,"r",815,770,"h",0],
["Photogrammetry","#fdc90a",1025,893,"r",701,580,"h",0],
["Grayscale","#5bb79a",371,653,"r",640,618,"v",-1],
["Medical imaging","#b6bcc3",371,746,"r",550,688,"v",0.5],
["Intraoral scanner","#d8cfc0",371,860,"r",510,773,"v",0.5],
["Ad converter","#7d9ab0",410,558,"l",480,558,"h",-0.5],
["Geoinformation systems","#2accd6",576,484,"l",635,484,"h",-1.5],
["Smart energy","#ab8488",475,450,"r",425,450,"h",0]
];

const svg=d3.select("#c");
const W=1614,H=962;
const x=d3.scaleLinear().domain([0,1568]).range([0,W]);
const y=d3.scaleLinear().domain([0,935]).range([0,H]);
const defs=svg.append("defs");
const topGrad=defs.append("linearGradient").attr("id","topfade").attr("x1",0).attr("y1",0).attr("x2",0).attr("y2",1);
topGrad.append("stop").attr("offset",0).attr("stop-color","#e6e6e6");
topGrad.append("stop").attr("offset",1).attr("stop-color","#ffffff");
const wm=defs.append("linearGradient").attr("id","wm").attr("x1",0).attr("y1",0).attr("x2",1).attr("y2",0);
wm.append("stop").attr("offset",0).attr("stop-color","#fdf0ac");
wm.append("stop").attr("offset",1).attr("stop-color","#fcd5ae");
svg.append("rect").attr("width",W).attr("height",H).attr("fill","#fff");
svg.append("rect").attr("width",W).attr("height",17).attr("fill","url(#topfade)");

// points
seriesRows.forEach((rows,i)=>{
  const pts=rows.flatMap(r=>r.slice(1).map(v=>[v,r[0]]));
  svg.append("g").attr("class","series").attr("data-name",seriesNames[i]).attr("fill",seriesColors[i])
    .selectAll("circle").data(pts).join("circle")
    .attr("cx",d=>x(d[0])).attr("cy",d=>y(d[1])).attr("r",3.6);
});

// leader lines
const R=24;
const gl=svg.append("g").attr("fill","none").attr("stroke","#bcc2c6").attr("stroke-width",1.2).attr("stroke-opacity",.85);
legend.forEach(d=>{
  const sx=x(d[2]),sy=y(d[3]),ex=x(d[5]),ey=y(d[6]);
  const p=d3.path();
  p.moveTo(sx,sy);
  if(Math.abs(sy-ey)<1){p.lineTo(ex,ey);}
  else {
    const r=Math.min(R,Math.abs(ex-sx),Math.abs(ey-sy));
    if(d[7]==="h") p.arcTo(ex,sy,ex,ey,r); else p.arcTo(sx,ey,ex,ey,r);
    p.lineTo(ex,ey);
  }
  gl.append("path").attr("d",p.toString());
});

// swatches and labels
const gs=svg.append("g");
legend.forEach(d=>{
  const sx=x(d[2]),sy=y(d[3]);
  gs.append("rect").attr("x",sx-4.5).attr("y",sy-4.5).attr("width",9).attr("height",9).attr("rx",1.5).attr("fill",d[1]);
  const right=d[4]==="r";
  const gap=d[0]==="Digital education"?13:(d[2]===905||d[2]===1305||d[2]===1406||d[2]===1295?8:9);
  const tx=right?sx+gap:sx-(gap-1);
  const t=gs.append("text").attr("x",tx).attr("y",sy+0.5+d[8])
    .attr("text-anchor",right?"start":"end").attr("font-size",12.9).attr("fill","#26282b");
  d[0].split("|").forEach((s,i)=>t.append("tspan").attr("x",tx).attr("dy",i?"16.5":"0.35em").text(s));
});

// watermark
const g=svg.append("g").attr("transform",`translate(${x(1495)},${y(863)})`);
g.append("circle").attr("r",74.5).attr("fill","url(#wm)");
g.append("polyline").attr("points","-58,-14 -26,-62 -8,-36 14,-64 50,-14").attr("fill","none").attr("stroke","#bfe0cf").attr("stroke-width",1.2);
g.append("polyline").attr("points","-44,-16 -26,-50 -6,-22").attr("fill","none").attr("stroke","#c6e3d2").attr("stroke-width",1);
g.append("polyline").attr("points","0,-26 14,-52 38,-16").attr("fill","none").attr("stroke","#c6e3d2").attr("stroke-width",1);
g.append("text").attr("y",4).attr("text-anchor","middle").attr("font-size",22.5).attr("font-weight",600).attr("fill","#a9c6ea").text("sk-news.ru");
g.append("text").attr("y",25).attr("text-anchor","middle").attr("font-size",8.2).attr("fill","#e8bf98").text("\"Гражданское партнёрство\"");
g.append("text").attr("x",-28).attr("y",38).attr("text-anchor","middle").attr("font-size",9).attr("fill","#e8bf98").text("АНО");
g.append("text").attr("x",-15).attr("y",34).attr("font-size",6.5).attr("fill","#e8bf98").text("Информационно-");
g.append("text").attr("x",-15).attr("y",41).attr("font-size",6.5).attr("fill","#e8bf98").text("ресурсный центр");
</script></body></html>
